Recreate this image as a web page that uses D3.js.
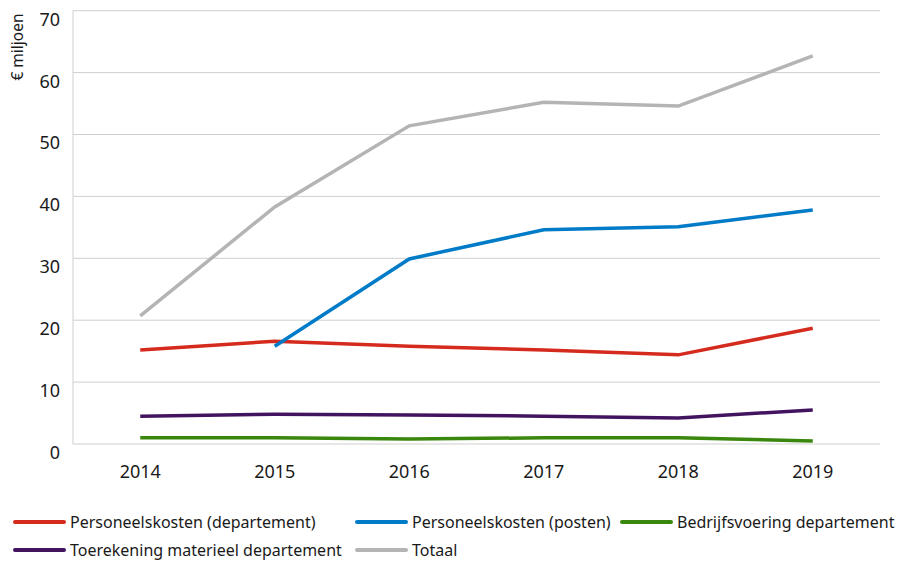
<!DOCTYPE html>
<html>
<head>
<meta charset="utf-8">
<script src="https://cdn.jsdelivr.net/npm/d3@7"></script>
<style>
  body { margin: 0; background: #fff; }
  text { font-family: "Noto Sans", "Open Sans", sans-serif; fill: #1a1a1a; }
</style>
</head>
<body>
<script>
var width = 899
var height = 563

// data
var years = ["2014", "2015", "2016", "2017", "2018", "2019"]
var personeelDepartement = [15.2, 16.6, 15.8, 15.2, 14.4, 18.7]
var personeelPosten = [null, 15.8, 29.9, 34.6, 35.1, 37.8]
var bedrijfsvoering = [1.0, 1.0, 0.8, 1.0, 1.0, 0.5]
var toerekeningMaterieel = [4.5, 4.8, 4.7, 4.5, 4.2, 5.5]
var totaal = [20.7, 38.3, 51.4, 55.2, 54.6, 62.7]
var yTicks = [0, 10, 20, 30, 40, 50, 60, 70]

var series = [
  { name: "Personeelskosten (departement)", values: personeelDepartement, color: "#d52b1e" },
  { name: "Personeelskosten (posten)", values: personeelPosten, color: "#007bc7" },
  { name: "Bedrijfsvoering departement", values: bedrijfsvoering, color: "#39870c" },
  { name: "Toerekening materieel departement", values: toerekeningMaterieel, color: "#42145f" },
  { name: "Totaal", values: totaal, color: "#b4b4b4" }
]

var margin = { top: 10.7, left: 73, right: 19, bottom: 119 }
var plotW = width - margin.left - margin.right
var plotH = height - margin.top - margin.bottom

var svg = d3.select("body").append("svg")
  .attr("width", width)
  .attr("height", height)

var x = d3.scaleBand().domain(years).range([0, plotW])
var y = d3.scaleLinear().domain([0, 70]).range([plotH, 0])

var g = svg.append("g")
  .attr("transform", "translate(" + margin.left + "," + margin.top + ")")

// gridlines
g.selectAll("line.grid")
  .data(yTicks)
  .enter()
  .append("line")
  .attr("x1", 0)
  .attr("x2", plotW)
  .attr("y1", function(d){ return y(d) })
  .attr("y2", function(d){ return y(d) })
  .attr("stroke", "#cfcfcf")
  .attr("stroke-width", 1)

g.append("line")
  .attr("x1", 0).attr("x2", 0)
  .attr("y1", 0).attr("y2", plotH)
  .attr("stroke", "#cfcfcf")

// y tick labels (sit a little below their gridline)
g.selectAll("text.ytick")
  .data(yTicks)
  .enter()
  .append("text")
  .attr("x", -13)
  .attr("y", function(d){ return y(d) + 15 })
  .attr("text-anchor", "end")
  .style("font-size", "18px")
  .text(function(d){ return d })

// x tick labels
g.selectAll("text.xtick")
  .data(years)
  .enter()
  .append("text")
  .attr("x", function(d){ return x(d) + x.bandwidth() / 2 })
  .attr("y", plotH + 34)
  .attr("text-anchor", "middle")
  .style("font-size", "18px")
  .text(function(d){ return d })

// axis title
svg.append("text")
  .attr("transform", "translate(23,47) rotate(-90)")
  .attr("text-anchor", "middle")
  .style("font-size", "15.5px")
  .text("€ miljoen")

var line = d3.line()
  .defined(function(d){ return d != null })
  .x(function(d, i){ return x(years[i]) + x.bandwidth() / 2 })
  .y(function(d){ return y(d) })

// draw in order so grey sits behind
var drawOrder = [4, 3, 2, 0, 1]
drawOrder.forEach(function(i){
  var s = series[i]
  g.append("path")
    .attr("d", line(s.values))
    .attr("fill", "none")
    .attr("stroke", s.color)
    .attr("stroke-width", 3.5)
})

// legend
var legendPos = [
  { x: 15, y: 522 },
  { x: 357, y: 522 },
  { x: 622, y: 522 },
  { x: 15, y: 550 },
  { x: 357, y: 550 }
]

var legend = svg.selectAll("g.legend")
  .data(series)
  .enter()
  .append("g")
  .attr("transform", function(d, i){
    return "translate(" + legendPos[i].x + "," + legendPos[i].y + ")"
  })

legend.append("line")
  .attr("x1", 0).attr("x2", 49)
  .attr("y1", 0).attr("y2", 0)
  .attr("stroke", function(d){ return d.color })
  .attr("stroke-width", 4)
  .attr("stroke-linecap", "round")

legend.append("text")
  .attr("x", 55)
  .attr("y", 6)
  .style("font-size", "16px")
  .text(function(d){ return d.name })
</script>
</body>
</html>
